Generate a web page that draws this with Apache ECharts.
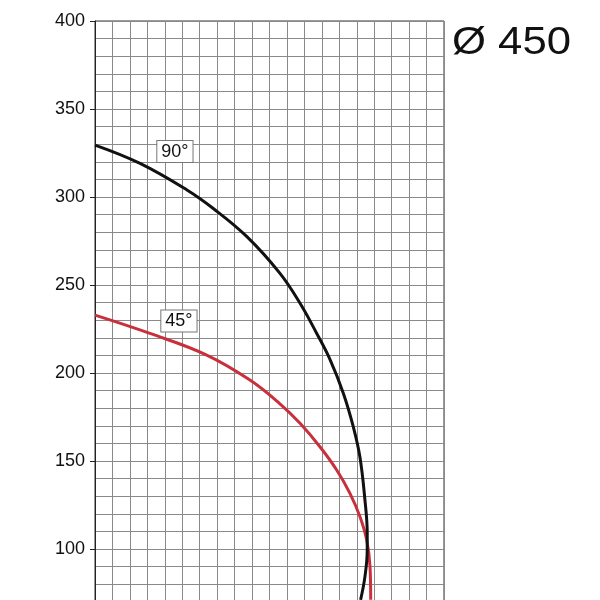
<!DOCTYPE html>
<html>
<head>
<meta charset="utf-8">
<script src="https://cdn.jsdelivr.net/npm/echarts@6/dist/echarts.min.js"></script>
<style>html,body{margin:0;padding:0;background:#fff}#c{width:600px;height:600px}</style>
</head>
<body>
<div id="c"></div>
<script>
// Data
const curve90X = [0, 25.8, 52.7, 67.6, 86.9, 106.0, 117.5, 127.0, 134.7, 142.3, 148.0, 151.8, 154.7, 156.0, 156.0, 154.7, 152.2];
const curve90Y = [329.5, 319.1, 304.0, 293.6, 277.6, 256.6, 239.6, 222.6, 207.6, 188.5, 169.5, 152.4, 127.8, 108.9, 99.4, 84.3, 71.1];
const curve45X = [0, 31.5, 64.0, 88.8, 106.0, 117.5, 128.9, 138.5, 146.1, 151.8, 155.7, 157.6, 158.0];
const curve45Y = [232.9, 222.5, 210.2, 196.0, 182.5, 171.4, 158.1, 144.9, 131.6, 118.4, 105.1, 90.0, 71.1];
const label90 = { text: '90°', x: 45.8, y: 325.8 };
const label45 = { text: '45°', x: 48.1, y: 229.5 };
const titleText = 'Ø 450';

const zip = (xs, ys) => xs.map((x, i) => [x, ys[i]]);

const boxLabel = (l) => ({
  symbol: 'rect', symbolSize: 0,
  data: [{ coord: [l.x, l.y] }],
  label: {
    show: true, position: 'inside', formatter: l.text,
    fontFamily: 'Liberation Sans', fontSize: 18, color: '#111',
    backgroundColor: '#fff', borderColor: '#777', borderWidth: 1, padding: [2, 4, 1, 4]
  }
});

const chart = echarts.init(document.getElementById('c'));
chart.setOption({
  animation: false,
  grid: { left: 95, right: 156, top: 21, bottom: -37, outerBoundsMode: 'none', containLabel: false,
    show: true, borderColor: '#333', borderWidth: 1, backgroundColor: 'transparent' },
  xAxis: {
    type: 'value', min: 0, max: 200, interval: 10,
    axisLine: { show: false }, axisTick: { show: false }, axisLabel: { show: false },
    splitLine: { show: true, lineStyle: { color: '#8a8a8a', width: 1 } }
  },
  yAxis: {
    type: 'value', min: 50, max: 400, interval: 50,
    axisLine: { show: true, lineStyle: { color: '#222', width: 1 } },
    axisTick: { show: true, length: 5, lineStyle: { color: '#222' } },
    axisLabel: { show: true, margin: 10, fontFamily: 'Liberation Sans', fontSize: 18, color: '#111' },
    splitLine: { show: true, lineStyle: { color: '#8a8a8a', width: 1 } },
    minorTick: { show: false, splitNumber: 5 },
    minorSplitLine: { show: true, lineStyle: { color: '#8a8a8a', width: 1 } }
  },
  series: [
    {
      type: 'line', data: zip(curve90X, curve90Y), smooth: 0.4, showSymbol: false,
      lineStyle: { color: '#111', width: 3 }, markPoint: boxLabel(label90), z: 3
    },
    {
      type: 'line', data: zip(curve45X, curve45Y), smooth: 0.4, showSymbol: false,
      lineStyle: { color: '#c8303c', width: 3 }, markPoint: boxLabel(label45), z: 2
    }
  ],
  graphic: [{
    type: 'text', left: 452, top: 24, scaleX: 1.12,
    style: { text: titleText, fontFamily: 'Liberation Sans', fontSize: 39, fill: '#111' }
  }]
});
</script>
</body>
</html>
